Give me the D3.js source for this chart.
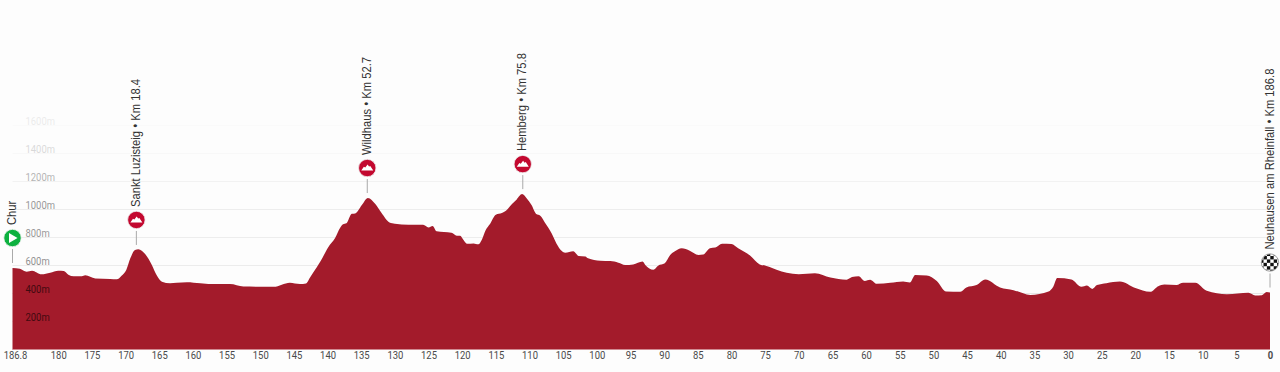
<!DOCTYPE html>
<html>
<head>
<meta charset="utf-8">
<script src="https://cdn.jsdelivr.net/npm/d3@7"></script>
<style>
  html, body { margin: 0; padding: 0; background: #fdfdfd; overflow: hidden; }
  svg { display: block; }
  .x-axis text { font: 10.5px Roboto, sans-serif; fill: #4a4a4a; }
  .y-axis text { font: 10.5px Roboto, sans-serif; fill: #000; }
  .label { font: 12px "Liberation Sans", Arial, sans-serif; fill: #333; }
</style>
</head>
<body>
<svg id="chart" width="1280" height="372"></svg>
<script>
// Remaining distance in km
const kmToGo = [186.8,185.7,184.7,183.9,182.5,181.2,180,179.2,178.5,177.7,176.5,176,174.5,172.3,171.3,170.6,169.9,169.3,168.6,168.1,167.1,166.1,165.4,164.6,163.4,162.4,160.9,158.9,156.5,154.5,152.5,148,145.6,
  144.1,143.2,142.6,141.6,141,139.9,138.9,138.1,137.7,137.2,136.4,135.9,134.9,134,132.9,132,130.8,130,128,125.8,125,124.4,123.8,121.6,120.8,120.3,
  119.8,119.3,118.3,117.6,117.1,116.5,115.9,115,114.1,113.5,112.6,111.9,111.1,110.4,109.7,109,108.4,107.7,106.7,106,105.2,104.7,103.5,102.7,101.7,101.3,99.5,98,96.8,
  95.8,94.6,93.2,92.8,91.6,90.9,89.9,89.1,88.4,87.4,86.2,84.9,84.2,83.2,82.4,81.4,80,79,77.2,75.8,74.8,73.3,71.8,70,67.6,65.3,62.9,62.1,61.1,60.2,59.4,58.4,56.4,54.5,53.5,52.7,51,49.5,48.1,
  46,45.1,43.6,42.3,40.1,38.1,35.6,32.9,32.2,31.6,29.5,28,27.2,26.4,25.7,24.3,22.3,20,17.8,16.6,15.7,13.9,12.9,11.1,9.4,6.4,3.2,2.2,1.2,0.5,0];
const elevation = [582,577,556,563,537,549,563,561,534,523,523,530,508,504,501,527,568,651,711,716,682,604,532,484,473,477,481,474,467,467,450,448,477,
  468,472,515,587,634,730,794,872,894,901,970,972,1032,1082,1039,977,908,899,891,891,872,882,844,834,813,813,
  782,756,758,751,782,853,894,963,975,991,1039,1072,1110,1079,1032,968,956,906,829,758,703,691,701,668,665,651,634,632,620,
  604,608,628,604,570,599,616,675,701,723,706,675,678,723,728,756,754,723,670,608,597,570,548,538,545,514,498,517,524,490,498,469,476,486,479,533,529,490,414,
  412,443,460,500,443,424,390,414,448,510,500,448,457,433,460,474,486,440,412,452,464,460,476,476,419,395,405,386,388,410,407];

const xTicks = [186.8,180,175,170,165,160,155,150,145,140,135,130,125,120,115,110,105,100,95,90,85,80,75,70,65,60,55,50,45,40,35,30,25,20,15,10,5,0];
const yTicks = [200,400,600,800,1000,1200,1400,1600];
const yTickOpacity = [0.62,0.62,0.45,0.42,0.42,0.3,0.14,0.07];

const markerNames = ['Chur','Sankt Luzisteig','Wildhaus','Hemberg','Neuhausen am Rheinfall'];
const markerKm = [0,18.4,52.7,75.8,186.8];
const markerKinds = ['start','climb','climb','climb','finish'];

const totalKm = 186.8;
const left = 12.5, right = 1270, baseline = 349.5;

const svg = d3.select('#chart');
const xScale = d3.scaleLinear().domain([totalKm, 0]).range([left, right]);
const yScale = d3.scaleLinear().domain([0, 1600]).range([baseline, baseline - 224]);
const points = kmToGo.map((km, i) => ({ km, ele: elevation[i] }));

// Grid lines
svg.append('g')
  .selectAll('line')
  .data(yTicks)
  .enter()
  .append('line')
  .attr('x1', left).attr('x2', right)
  .attr('y1', d => yScale(d)).attr('y2', d => yScale(d))
  .attr('stroke', '#000')
  .attr('stroke-opacity', (d, i) => yTickOpacity[i] * 0.15);

// Area
const area = d3.area()
  .x(d => xScale(d.km))
  .y0(baseline)
  .y1(d => yScale(d.ele))
  .curve(d3.curveMonotoneX);
svg.append('path')
  .datum(points)
  .attr('d', area)
  .attr('fill', '#a31b2b');
svg.append('line')
  .attr('x1', left).attr('x2', right)
  .attr('y1', baseline).attr('y2', baseline)
  .attr('stroke', '#d08a92');

// Y labels sit over the profile
const yAxis = svg.append('g')
  .attr('class', 'y-axis')
  .attr('transform', `translate(${left}, 0)`)
  .call(d3.axisRight(yScale).tickValues(yTicks).tickSize(0).tickFormat(d => d + 'm'));
yAxis.select('.domain').remove();
yAxis.selectAll('.tick text')
  .attr('x', 0)
  .attr('dy', '-0.05em')
  .attr('transform', 'translate(13, 0) scale(0.9, 1)')
  .style('opacity', (d, i) => yTickOpacity[i]);

// X axis
const xAxis = svg.append('g')
  .attr('class', 'x-axis')
  .attr('transform', `translate(0, ${baseline})`)
  .call(d3.axisBottom(xScale).tickValues(xTicks).tickSize(0).tickFormat(d => d));
xAxis.select('.domain').remove();
xAxis.selectAll('.tick text')
  .attr('y', 2.5)
  .attr('transform', d => d === totalKm ? 'translate(2.5, 0) scale(0.9, 1)' : 'scale(0.9, 1)')
  .style('font-weight', d => d === 0 ? 'bold' : null);

// Markers
const nearestEle = km => {
  const i = d3.bisector(d => -d.km).center(points, -km);
  return points[i].ele;
};

function drawIcon(g, kind) {
  if (kind === 'start') {
    g.append('circle').attr('r', 8.7).attr('fill', '#0db13f').attr('stroke', '#f2f2f2').attr('stroke-width', 0.8);
    g.append('path').attr('d', 'M-3.5,-5 L5,0 L-3.5,5 Z').attr('fill', '#fff');
  } else if (kind === 'climb') {
    g.append('circle').attr('r', 8.7).attr('fill', '#c3082f').attr('stroke', '#eee').attr('stroke-width', 0.8);
    g.append('path')
      .attr('d', 'M-6,2.6 L-3.4,-1.2 L-2,-0.4 L0.3,-3.4 L1.8,-1.4 L3,-2 L6,2.6 Z')
      .attr('fill', '#fff');
  } else {
    g.append('circle').attr('r', 8.7).attr('fill', '#fff').attr('stroke', '#666').attr('stroke-width', 0.6);
    const clip = 'flag-clip';
    g.append('clipPath').attr('id', clip).append('circle').attr('r', 8.3);
    const cells = d3.range(-3, 3);
    const checks = g.append('g').attr('clip-path', `url(#${clip})`);
    cells.forEach(c => cells.forEach(r => {
      if ((c + r) % 2 === 0) {
        checks.append('rect').attr('x', c * 3.4 + 0.3).attr('y', r * 3.4 + 0.3)
          .attr('width', 3.4).attr('height', 3.4).attr('fill', '#111');
      }
    }));
  }
}

markerNames.forEach((name, i) => {
  const km = markerKm[i];
  const x = xScale(totalKm - km);
  const y = yScale(nearestEle(totalKm - km));
  const g = svg.append('g').attr('transform', `translate(${x}, ${y})`);

  g.append('line').attr('y1', -5).attr('y2', -19).attr('stroke', '#aaa').attr('stroke-width', 1);
  drawIcon(g.append('g').attr('transform', 'translate(0, -30)'), markerKinds[i]);

  const text = km === 0 ? name : `${name} • Km ${km}`;
  g.append('text')
    .attr('class', 'label')
    .attr('transform', 'translate(3.5, -43) rotate(-90) scale(0.935, 1)')
    .text(text);
});
</script>
</body>
</html>
